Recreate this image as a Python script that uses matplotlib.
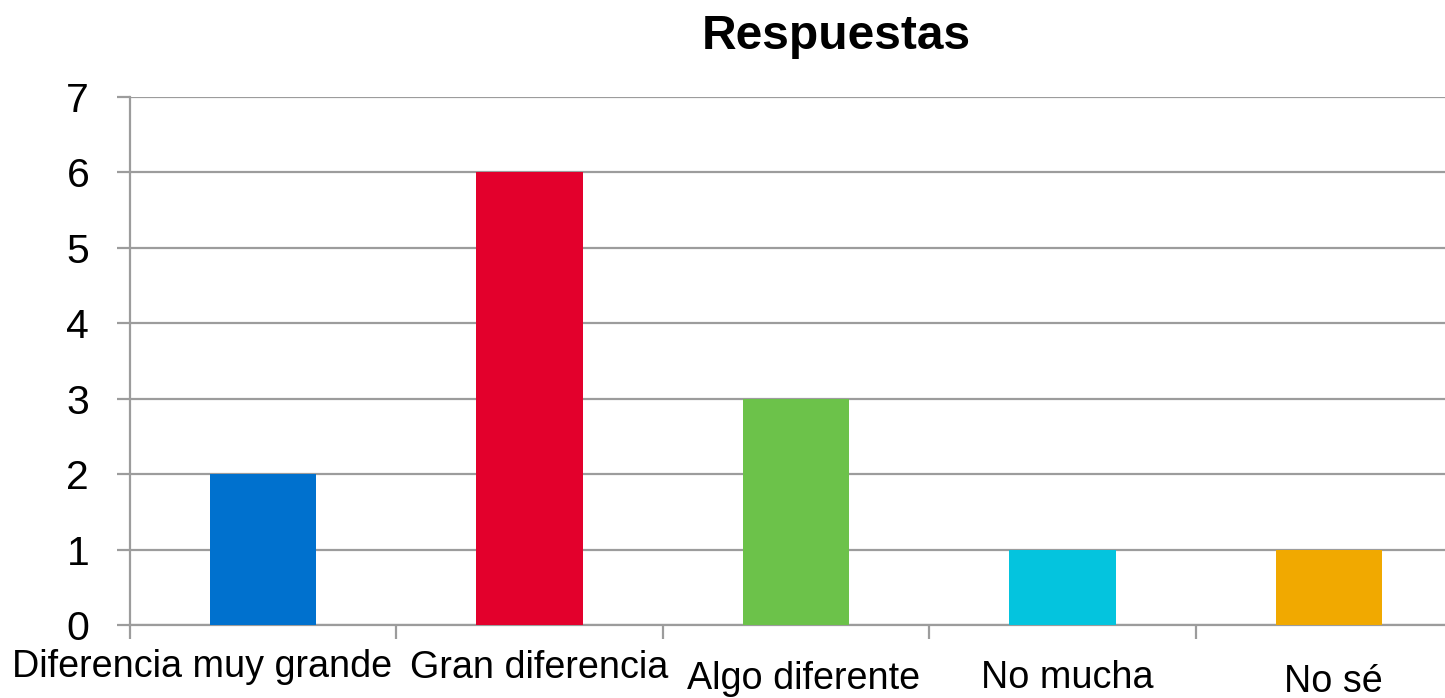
import matplotlib
matplotlib.use('Agg')
import matplotlib.pyplot as plt
import matplotlib.transforms as mtransforms

plt.rcParams['font.family'] = ['Liberation Sans', 'DejaVu Sans']

# Datos
categorias = ['Diferencia muy grande', 'Gran diferencia', 'Algo diferente', 'No mucha', 'No sé']
respuestas = [2, 6, 3, 1, 1]
colores = ['#0071CE', '#E3002C', '#6CC24A', '#04C4DE', '#F1A900']
yticks = [0, 1, 2, 3, 4, 5, 6, 7]

# Ajustes de posición de las etiquetas (como en el original)
desplaz_x = [-0.229, 0.036, 0.03, 0.019, 0.019]   # en unidades de categoría
base_y_px = [21, 20, 9, 10, 6]                    # línea base, px desde abajo

W, H = 1445, 698
fig = plt.figure(figsize=(W / 100, H / 100), dpi=100)
ax = fig.add_axes([130 / W, 73 / H, 1332 / W, 528 / H])

gris = '#9C9C9C'
x = list(range(len(categorias)))
ax.bar(x, respuestas, width=0.4, color=colores, zorder=3)

ax.set_xlim(-0.5, len(categorias) - 0.5)
ax.set_ylim(0, 7)
ax.set_yticks(yticks)
ax.yaxis.grid(True, color=gris, linewidth=1.6, zorder=0)
ax.tick_params(axis='y', length=9.4, width=1.6, color=gris, pad=20, labelsize=29.5)

ax.set_xticks([i - 0.5 for i in range(len(categorias) + 1)])
ax.set_xticklabels([])
ax.tick_params(axis='x', length=10, width=1.6, color=gris)

for s in ['top', 'right']:
    ax.spines[s].set_visible(False)
for s in ['left', 'bottom']:
    ax.spines[s].set_color(gris)
    ax.spines[s].set_linewidth(1.6)

# Etiquetas del eje x
trans = mtransforms.blended_transform_factory(ax.transData, fig.transFigure)
for i, etiqueta in enumerate(categorias):
    ax.text(i + desplaz_x[i], base_y_px[i] / H, etiqueta, transform=trans,
            ha='center', va='baseline', fontsize=27.2, clip_on=False)

fig.text(836.5 / W, 649 / H, 'Respuestas', ha='center', va='baseline',
         fontsize=34.5, fontweight='bold')

fig.savefig('out.png', dpi=100)
